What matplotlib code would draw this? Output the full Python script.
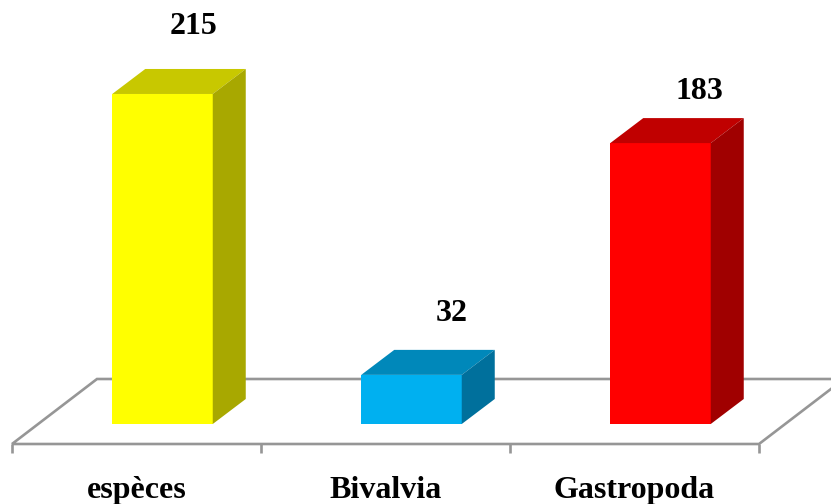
import matplotlib
matplotlib.use("Agg")
import matplotlib.pyplot as plt
from matplotlib.patches import Polygon

categories = ["espèces", "Bivalvia", "Gastropoda"]
values = [215, 32, 183]
front_colors = ["#FFFF00", "#00B0F0", "#FF0000"]
top_colors = ["#C8C800", "#0088BA", "#C00000"]
side_colors = ["#A8A800", "#00709C", "#A00000"]

W, H = 831, 504
PX_X = 249.0      # pixels per category
PX_Y = 1.535      # pixels per value unit
X0, Y0 = 162.5, 424.0  # pixel of category 0 bar centre / baseline (from top)

# hand-placed value labels: offset from the bar's top-centre, in pixels
label_off_x = [31, 40, 39]
label_off_y = [67, 61, 52]

fig = plt.figure(figsize=(W / 100, H / 100), dpi=100)
ax = fig.add_axes([0, 0, 1, 1])
ax.set_xlim(-X0 / PX_X, (W - X0) / PX_X)
ax.set_ylim(-(H - Y0) / PX_Y, Y0 / PX_Y)
ax.axis("off")

bar_w = 100.5 / PX_X
dx, dy = 33 / PX_X, 25 / PX_Y
fx, fy = 26 / PX_X, 20 / PX_Y   # floor front offset from bar front

# floor
n = len(categories)
left = -0.5 - fx
right = n - 0.5 - fx
floor_col = "#969696"
floor = [(left, -fy), (right, -fy), (right + 85 / PX_X, -fy + 65 / PX_Y),
         (left + 85 / PX_X, -fy + 65 / PX_Y)]
ax.add_patch(Polygon(floor, closed=True, fc="white", ec=floor_col, lw=1.9, zorder=1))
for i in range(n + 1):
    ax.plot([left + i, left + i], [-fy, -fy - 9 / PX_Y], color=floor_col, lw=1.9, zorder=1,
            clip_on=False, solid_capstyle="butt")

# bars
xs = list(range(n))
ax.bar(xs, values, width=bar_w, color=front_colors, zorder=3, linewidth=0)
for x, v, tc, sc, ox, oy in zip(xs, values, top_colors, side_colors, label_off_x, label_off_y):
    l, r = x - bar_w / 2, x + bar_w / 2
    ax.add_patch(Polygon([(l, v), (r, v), (r + dx, v + dy), (l + dx, v + dy)],
                         closed=True, fc=tc, ec="none", zorder=3))
    ax.add_patch(Polygon([(r, 0), (r + dx, dy), (r + dx, v + dy), (r, v)],
                         closed=True, fc=sc, ec="none", zorder=3))
    ax.text(x + ox / PX_X, v + oy / PX_Y, str(v), ha="center", va="center",
            family="Liberation Serif", weight="bold", fontsize=23, color="black", zorder=4)

for x, c in zip(xs, categories):
    ax.text(x - 26 / PX_X, -74 / PX_Y, c, ha="center", va="baseline",
            family="Liberation Serif", weight="bold", fontsize=23, color="black")

fig.savefig("out.png", dpi=100)
